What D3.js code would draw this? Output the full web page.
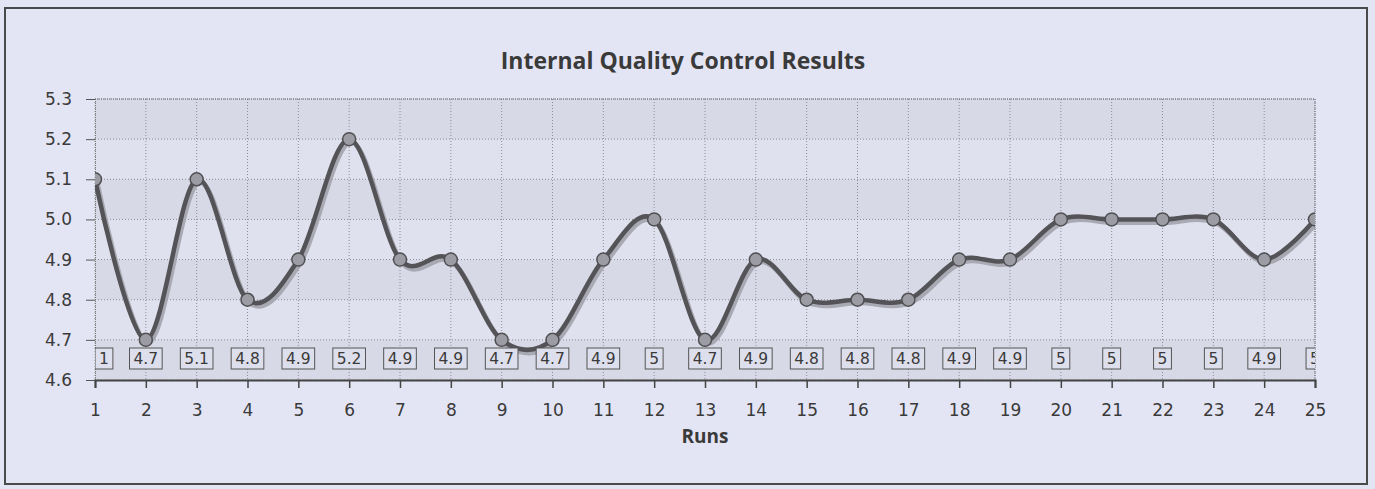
<!DOCTYPE html>
<html>
<head>
<meta charset="utf-8">
<script src="https://cdn.jsdelivr.net/npm/d3@7/dist/d3.min.js"></script>
<style>
  html, body { margin: 0; padding: 0; background: #e4e5f4; }
  svg { display: block; }
</style>
</head>
<body>
<svg id="chart" width="1375" height="489"></svg>
<script>
const runs = d3.range(1, 26);
const values = [5.1, 4.7, 5.1, 4.8, 4.9, 5.2, 4.9, 4.9, 4.7, 4.7, 4.9, 5.0, 4.7, 4.9, 4.8, 4.8, 4.8, 4.9, 4.9, 5.0, 5.0, 5.0, 5.0, 4.9, 5.0];
const labelTexts = ["1", "4.7", "5.1", "4.8", "4.9", "5.2", "4.9", "4.9", "4.7", "4.7", "4.9", "5", "4.7", "4.9", "4.8", "4.8", "4.8", "4.9", "4.9", "5", "5", "5", "5", "4.9", "5"];
const yTicks = [4.6, 4.7, 4.8, 4.9, 5.0, 5.1, 5.2, 5.3];
const title = "Internal Quality Control Results";
const xTitle = "Runs";

const svg = d3.select("#chart");
const plot = { left: 95, right: 1315, top: 99, bottom: 380 };

// outer chart border
svg.append("rect").attr("x", 5).attr("y", 8).attr("width", 1362).attr("height", 476)
  .attr("fill", "#e4e5f4").attr("stroke", "#4a4a4a").attr("stroke-width", 2);

const x = d3.scaleLinear().domain([1, 25]).range([plot.left, plot.right]);
const y = d3.scaleLinear().domain([4.6, 5.3]).range([plot.bottom, plot.top]);

// plot background bands
const g = svg.append("g");
g.selectAll("rect.band").data(yTicks.slice(0, -1)).enter().append("rect")
  .attr("class", "band")
  .attr("x", plot.left).attr("width", plot.right - plot.left)
  .attr("y", d => y(d + 0.1)).attr("height", d => y(d) - y(d + 0.1))
  .attr("fill", (d, i) => i % 2 === 0 ? "#d8d9e6" : "#e0e1ee");

// gridlines
g.selectAll("line.hg").data(yTicks).enter().append("line")
  .attr("x1", plot.left).attr("x2", plot.right)
  .attr("y1", d => y(d)).attr("y2", d => y(d))
  .attr("stroke", "#8c8c96").attr("stroke-width", 1).attr("stroke-dasharray", "1,2");
g.selectAll("line.vg").data(runs).enter().append("line")
  .attr("x1", d => x(d)).attr("x2", d => x(d))
  .attr("y1", plot.top).attr("y2", plot.bottom)
  .attr("stroke", "#8c8c96").attr("stroke-width", 1).attr("stroke-dasharray", "1,2");
g.append("line").attr("x1", plot.left).attr("x2", plot.right).attr("y1", plot.top).attr("y2", plot.top)
  .attr("stroke", "#6a6a72").attr("stroke-width", 1).attr("stroke-dasharray", "1,1");
g.append("line").attr("x1", plot.right).attr("x2", plot.right).attr("y1", plot.top).attr("y2", plot.bottom)
  .attr("stroke", "#6a6a72").attr("stroke-width", 1).attr("stroke-dasharray", "1,1");

// axes
const yAxis = d3.axisLeft(y).tickValues(yTicks).tickFormat(d3.format(".1f")).tickSize(9).tickPadding(14);
const ya = svg.append("g").attr("transform", `translate(${plot.left},0)`).call(yAxis);
ya.select(".domain").attr("stroke", "#777").attr("stroke-dasharray", "1,1");
ya.selectAll(".tick line").attr("stroke", "#555");
ya.selectAll("text").attr("font-family", "DejaVu Sans, Verdana, sans-serif").attr("font-size", 17).attr("fill", "#3a3a3a");

const xAxis = d3.axisBottom(x).tickValues(runs).tickFormat(d3.format("d")).tickSize(8).tickPadding(16);
const xa = svg.append("g").attr("transform", `translate(0,${plot.bottom})`).call(xAxis);
xa.select(".domain").attr("stroke", "#444").attr("stroke-width", 2);
xa.selectAll(".tick line").attr("stroke", "#444").attr("stroke-width", 1.5);
xa.selectAll("text").attr("font-family", "DejaVu Sans, Verdana, sans-serif").attr("font-size", 17).attr("fill", "#3a3a3a");

// clip for plot
svg.append("clipPath").attr("id", "pc").append("rect")
  .attr("x", plot.left).attr("y", plot.top - 10).attr("width", plot.right - plot.left).attr("height", plot.bottom - plot.top + 10);

const data = runs.map((r, i) => ({ r, v: values[i], t: labelTexts[i] }));
const line = d3.line().x(d => x(d.r)).y(d => y(d.v)).curve(d3.curveCardinal.tension(0));

const series = svg.append("g").attr("clip-path", "url(#pc)");
series.append("path").datum(data).attr("d", line)
  .attr("transform", "translate(2,3)")
  .attr("fill", "none").attr("stroke", "#a3a3ad").attr("stroke-width", 5).attr("opacity", 0.9);
series.append("path").datum(data).attr("d", line)
  .attr("fill", "none").attr("stroke", "#545458").attr("stroke-width", 4.5);
series.selectAll("circle").data(data).enter().append("circle")
  .attr("cx", d => x(d.r)).attr("cy", d => y(d.v)).attr("r", 6.5)
  .attr("fill", "#9c9ca4").attr("stroke", "#505054").attr("stroke-width", 1.5);

// data labels
const labelY = 358.5;
const lab = series.selectAll("g.lab").data(data).enter().append("g").attr("class", "lab");
lab.each(function (d, i) {
  const gg = d3.select(this);
  const txt = gg.append("text").attr("y", labelY).attr("dy", "0.36em")
    .attr("text-anchor", "middle")
    .attr("font-family", "DejaVu Sans, Verdana, sans-serif").attr("font-size", 15.5).attr("fill", "#3a3a3a")
    .text(d.t);
  let cx = x(d.r);
  const w = txt.node().getComputedTextLength();
  if (i === 0) cx = plot.left + (w + 8) / 2;
  txt.attr("x", cx);
  gg.insert("rect", "text")
    .attr("x", cx - w / 2 - 4).attr("y", labelY - 10.5).attr("width", w + 8).attr("height", 21)
    .attr("fill", "#dedfec").attr("stroke", "#555").attr("stroke-width", 1);
});

// titles
svg.append("text").attr("x", 683).attr("y", 69).attr("text-anchor", "middle")
  .attr("font-family", "Open Sans, Lato, sans-serif").attr("font-weight", "bold").attr("font-size", 23)
  .attr("fill", "#3a3a3a").text(title);
svg.append("text").attr("x", 705).attr("y", 443).attr("text-anchor", "middle")
  .attr("font-family", "Open Sans, Lato, sans-serif").attr("font-weight", "bold").attr("font-size", 19)
  .attr("fill", "#3a3a3a").text(xTitle);
</script>
</body>
</html>
